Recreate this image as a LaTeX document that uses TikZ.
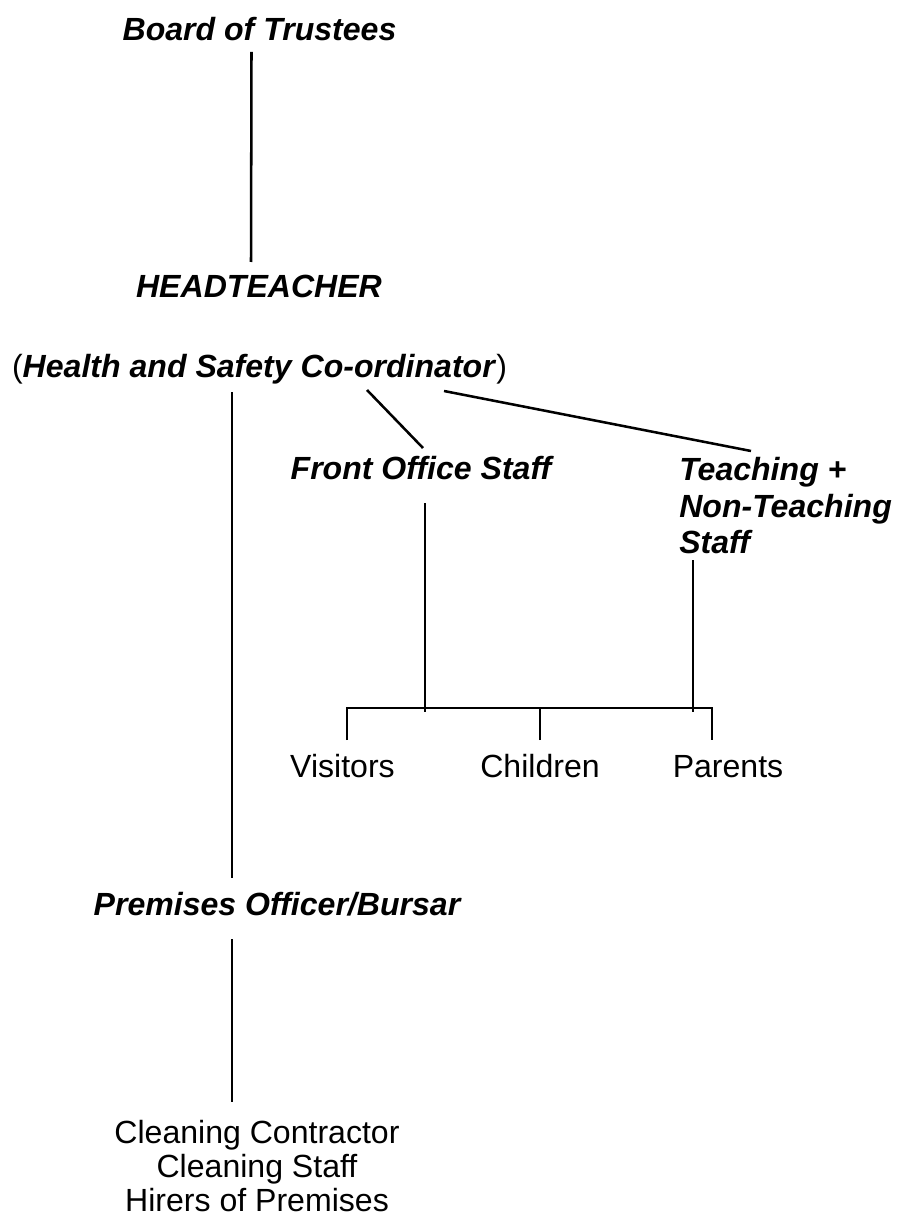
\documentclass[tikz,border=0pt]{standalone}
\usepackage{fontspec}
\setmainfont{Liberation Sans}
\usetikzlibrary{calc}
\tikzset{role/.style={inner sep=0pt, anchor=base, font=\fontsize{22.8pt}{26pt}\selectfont\bfseries\itshape},
  group/.style={inner sep=0pt, anchor=base, font=\fontsize{22.8pt}{26pt}\selectfont}}
\begin{document}
\begin{tikzpicture}[x=0.025cm, y=-0.025cm, line width=1.8pt]
  \useasboundingbox (0,0) rectangle (902,1220);
  \node[role] (board) at (259.5,41) {Board of Trustees}; \node[role] (head) at (259,298) {HEADTEACHER};
  \node[group] (hsc) at (259.5,377) {(\textbf{\textit{Health and Safety Co-ordinator}})};
  \node[role] (front) at (421,479) {Front Office Staff};
  \node[role, anchor=north west, align=left] (teach) at (678,456) {Teaching +\\Non-Teaching\\Staff};
  \node[group] (visitors) at (342.5,777) {Visitors}; \node[group] (children) at (540,777) {Children}; \node[group] (parents) at (728,777) {Parents};
  \node[role] (premises) at (277,915) {Premises Officer/Bursar};
  \node[group, anchor=north, align=center, font=\fontsize{22.8pt}{24.2pt}\selectfont] (cleaning) at (257,1119) {Cleaning Contractor\\Cleaning Staff\\Hirers of Premises};
  \draw ($(board.base)+(-8,11)$) -- ($(head.base)+(-8,-36)$);
  \draw ($(hsc.base)+(-27.5,15)$) -- ($(premises.base)+(-45,-37)$);
  \draw ($(hsc.base)+(107.5,13)$) -- ($(front.base)+(2,-31)$); \draw ($(hsc.base)+(184.5,14)$) -- ($(teach.north west)+(73,-5)$);
  \draw ($(front.base)+(4,24)$) -- ++(0,209); \draw ($(teach.north west)+(15,104)$) -- ++(0,152);
  \draw ($(visitors.base)+(4.5,-37)$) -- ++(0,-32) -| ($(parents.base)+(-16,-37)$); \draw ($(children.base)+(0,-37)$) -- ++(0,-32);
  \draw ($(premises.base)+(-45,24)$) -- ($(cleaning.north)+(-25,-17)$);
\end{tikzpicture}
\end{document}
